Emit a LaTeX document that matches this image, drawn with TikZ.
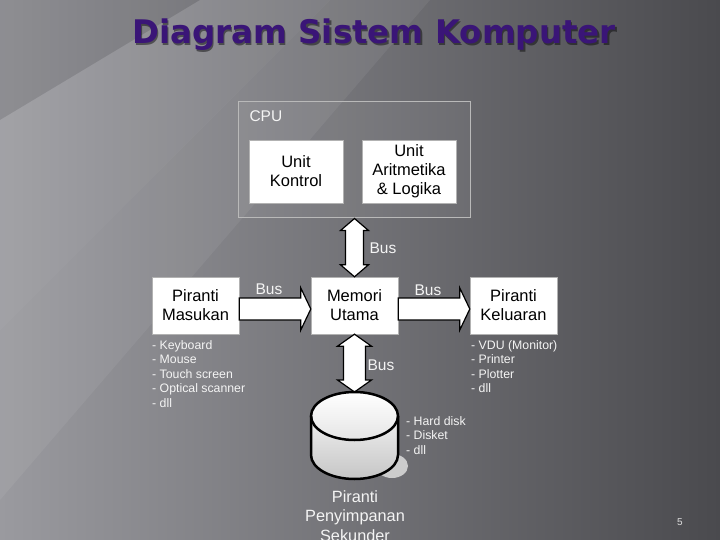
\documentclass[tikz,border=0pt]{standalone}
\usepackage{fontspec}
\setmainfont{Liberation Sans}
\newfontfamily\titlefont{DejaVu Sans}
\usetikzlibrary{calc}

\definecolor{judul}{HTML}{3A1577}
\definecolor{latarkiri}{HTML}{9A9A9F}
\definecolor{latarkanan}{HTML}{4A4A4E}
\definecolor{teksputih}{HTML}{F4F4F4}

\tikzset{
  kotak/.style={draw=gray!60, fill=white, align=center, inner sep=0pt,
    font=\fontsize{16.5}{19}\selectfont},
  busarrow/.style={draw=black, fill=white, line width=1.2pt, line join=miter},
  buslabel/.style={text=teksputih, font=\fontsize{15.5}{18}\selectfont},
  daftar/.style={text=teksputih, align=left, anchor=north west, inner sep=0pt,
    font=\fontsize{12.3}{14.5}\selectfont},
}

\begin{document}
\begin{tikzpicture}[x=1pt,y=1pt]
  \useasboundingbox (0,0) rectangle (720,-540);
  % background
  \shade[left color=latarkiri, right color=latarkanan] (0,0) rectangle (720,-540);
  \fill[white, opacity=0.08] (0,-120) -- (200,0) -- (330,0) -- (0,-330) -- cycle;
  \fill[white, opacity=0.06] (0,-330) -- (330,0) -- (430,0) -- (0,-500) -- cycle;
  \fill[black, opacity=0.08] (0,0) -- (200,0) -- (0,-120) -- cycle;
  % title
  \node[text=black, opacity=0.45] (judulbayang) at (375.5,-36.5)
    {\titlefont\bfseries\fontsize{32.5}{33}\selectfont Diagram Sistem Komputer};
  \node[text=judul] (judul) at (374,-35)
    {\titlefont\bfseries\fontsize{32.5}{33}\selectfont Diagram Sistem Komputer};
  % CPU
  \node[draw=gray!55, line width=1pt, fill=white, fill opacity=0.05,
    minimum width=232pt, minimum height=116pt] (cpu) at (354,-160) {};
  \node[text=teksputih, anchor=west, font=\fontsize{15.5}{18}\selectfont] (cpulabel) at (246,-116) {CPU};
  \node[kotak, minimum width=94pt, minimum height=63pt] (kontrol) at (296,-171.5) {Unit\\Kontrol};
  \node[kotak, minimum width=94pt, minimum height=63pt] (alu) at (409,-171.5) {Unit\\Aritmetika\\\& Logika};
  % main row
  \node[kotak, minimum width=87pt, minimum height=57pt] (masukan) at (195.5,-305.5) {Piranti\\Masukan};
  \node[kotak, minimum width=87pt, minimum height=57pt] (memori) at (354.5,-305.5) {Memori\\Utama};
  \node[kotak, minimum width=87pt, minimum height=57pt] (keluaran) at (513.5,-305.5) {Piranti\\Keluaran};
  \coordinate (disk) at (354.5,-392);
  % horizontal buses
  \coordinate (m1) at ($(masukan.east)+(0,-3.5)$);
  \coordinate (m2) at ($(memori.west)+(0,-3.5)$);
  \draw[busarrow] ($(m1)+(0,11)$) -- ($(m2)+(-10,11)$) -- ($(m2)+(-10,21)$) -- (m2)
    -- ($(m2)+(-10,-21)$) -- ($(m2)+(-10,-11)$) -- ($(m1)+(0,-11)$) -- cycle;
  \coordinate (k1) at ($(memori.east)+(0,-3.5)$);
  \coordinate (k2) at ($(keluaran.west)+(0,-3.5)$);
  \draw[busarrow] ($(k1)+(0,11)$) -- ($(k2)+(-10,11)$) -- ($(k2)+(-10,21)$) -- (k2)
    -- ($(k2)+(-10,-21)$) -- ($(k2)+(-10,-11)$) -- ($(k1)+(0,-11)$) -- cycle;
  % vertical buses
  \coordinate (v1) at (memori.north |- cpu.south);
  \coordinate (v2) at (memori.north);
  \draw[busarrow] (v1) -- ($(v1)+(14,-12)$) -- ($(v1)+(9,-12)$) -- ($(v2)+(9,12)$)
    -- ($(v2)+(14,12)$) -- (v2) -- ($(v2)+(-14,12)$) -- ($(v2)+(-9,12)$)
    -- ($(v1)+(-9,-12)$) -- ($(v1)+(-14,-12)$) -- cycle;
  \coordinate (v3) at (memori.south);
  \draw[busarrow] (v3) -- ($(v3)+(17,-12)$) -- ($(v3)+(11,-12)$) -- ($(disk)+(11,12)$)
    -- ($(disk)+(17,12)$) -- (disk) -- ($(disk)+(-17,12)$) -- ($(disk)+(-11,12)$)
    -- ($(v3)+(-11,-12)$) -- ($(v3)+(-17,-12)$) -- cycle;
  \node[buslabel] (bus1) at (383,-248) {Bus};
  \node[buslabel] (bus2) at (269,-289) {Bus};
  \node[buslabel] (bus3) at (428,-290) {Bus};
  \node[buslabel] (bus4) at (381,-365) {Bus};
  % lists
  \node[daftar] (daftarmasukan) at (152,-340) {- Keyboard\\- Mouse\\- Touch screen\\- Optical scanner\\- dll};
  \node[daftar] (daftarkeluaran) at (471,-340) {- VDU (Monitor)\\- Printer\\- Plotter\\- dll};
  \node[daftar] (daftardisk) at (406,-416) {- Hard disk\\- Disket\\- dll};
  % disk cylinder
  \fill[gray!40] (392,-466) ellipse [x radius=16, y radius=12];
  \shade[top color=gray!12, bottom color=gray!45] (311,-416) -- (311,-455)
    arc[start angle=180, end angle=360, x radius=43.5, y radius=24] -- (398,-416) -- cycle;
  \shade[top color=white, bottom color=gray!20] (354.5,-416) ellipse [x radius=43.5, y radius=24];
  \draw[line width=2.5pt] (311,-416) -- (311,-455)
    arc[start angle=180, end angle=360, x radius=43.5, y radius=24] -- (398,-416);
  \draw[line width=2.5pt] (354.5,-416) ellipse [x radius=43.5, y radius=24];
  \node[text=teksputih, align=center, font=\fontsize{16.3}{19.5}\selectfont] (penyimpanan)
    at (355,-516) {Piranti\\Penyimpanan\\Sekunder};
  % page number
  \node[text=gray!25, font=\fontsize{10}{12}\selectfont] (halaman) at (680,-522) {5};
\end{tikzpicture}
\end{document}
